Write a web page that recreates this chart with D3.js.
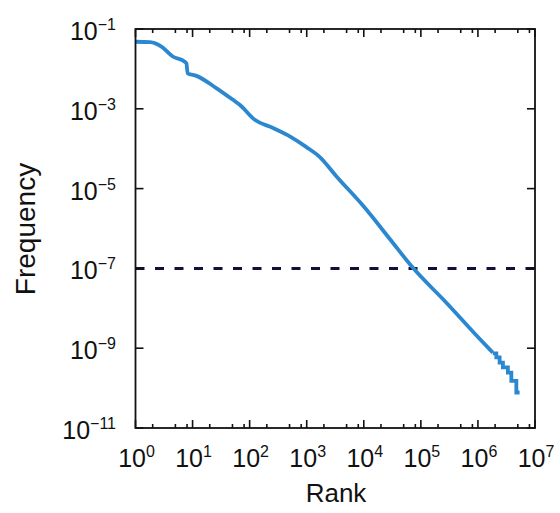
<!DOCTYPE html>
<html>
<head>
<meta charset="utf-8">
<script src="https://cdn.jsdelivr.net/npm/d3@7"></script>
<style>
  html, body { margin: 0; padding: 0; background: #fff; }
  svg { display: block; }
  text { font-family: "Liberation Sans", Arial, Helvetica, sans-serif; fill: #111; }
</style>
</head>
<body>
<svg id="chart" width="560" height="513"></svg>
<script>
// ---- data ----
const rank = [1, 1.8, 2.85, 4.5, 7.3, 7.8, 8.2, 11.7, 26, 51, 67, 123, 257, 505, 990, 1700, 3300, 10000, 30000, 72000, 280000, 1000000, 1820000];
const logFreq = [-1.32, -1.33, -1.44, -1.69, -1.82, -1.86, -2.11, -2.175, -2.48, -2.775, -2.9, -3.275, -3.48, -3.69, -3.96, -4.21, -4.69, -5.45, -6.3, -6.98, -7.86, -8.72, -9.11];
// staircase tail (low counts)
const tailRank = [1820000, 2100000, 2400000, 2740000, 3350000, 3850000, 4710000, 5370000];
const tailLogFreq = [-9.13, -9.23, -9.36, -9.48, -9.61, -9.82, -10.11, -10.11];
const thresholdFreq = 1e-7;
const xMajorTicks = [1, 10, 100, 1e3, 1e4, 1e5, 1e6, 1e7];
const xMajorExp = ["0", "1", "2", "3", "4", "5", "6", "7"];
const xMinorMult = [2, 5, 8];
const yTicks = [1e-1, 1e-3, 1e-5, 1e-7, 1e-9, 1e-11];
const yTickExp = ["\u22121", "\u22123", "\u22125", "\u22127", "\u22129", "\u221211"];
const xTitle = "Rank";
const yTitle = "Frequency";

// ---- layout ----
const L = 135.5, R = 535, T = 29, B = 428;
const svg = d3.select("#chart");
const x = d3.scaleLog().domain([1, 1e7]).range([L, R]);
const y = d3.scaleLog().domain([1e-11, 1e-1]).range([B, T]);

const mainData = rank.map((r, i) => ({r, f: Math.pow(10, logFreq[i])}));
const tailData = tailRank.map((r, i) => ({r, f: Math.pow(10, tailLogFreq[i])}));

// threshold line
svg.append("line")
  .attr("x1", L).attr("x2", R)
  .attr("y1", y(thresholdFreq)).attr("y2", y(thresholdFreq))
  .attr("stroke", "#10103c").attr("stroke-width", 3)
  .attr("stroke-dasharray", "9,10.5");

// curve
svg.append("path").datum(mainData)
  .attr("d", d3.line().x(d => x(d.r)).y(d => y(d.f)).curve(d3.curveMonotoneX))
  .attr("fill", "none").attr("stroke", "#2b88d0").attr("stroke-width", 3.8)
  .attr("stroke-linejoin", "round");
svg.append("path").datum(tailData)
  .attr("d", d3.line().x(d => x(d.r)).y(d => y(d.f)).curve(d3.curveStepAfter))
  .attr("fill", "none").attr("stroke", "#2b88d0").attr("stroke-width", 3.8);

// frame
svg.append("rect").attr("x", L).attr("y", T).attr("width", R - L).attr("height", B - T)
  .attr("fill", "none").attr("stroke", "#111").attr("stroke-width", 1.8);

// x ticks (top and bottom, inward)
const minor = [];
xMajorTicks.slice(0, -1).forEach(d => xMinorMult.forEach(m => minor.push(d * m)));
const tickG = svg.append("g").attr("stroke", "#111").attr("stroke-width", 1.6);
xMajorTicks.forEach(d => {
  tickG.append("line").attr("x1", x(d)).attr("x2", x(d)).attr("y1", B).attr("y2", B - 8);
  tickG.append("line").attr("x1", x(d)).attr("x2", x(d)).attr("y1", T).attr("y2", T + 8);
});
minor.forEach(d => {
  tickG.append("line").attr("x1", x(d)).attr("x2", x(d)).attr("y1", B).attr("y2", B - 4);
  tickG.append("line").attr("x1", x(d)).attr("x2", x(d)).attr("y1", T).attr("y2", T + 4);
});
yTicks.forEach(d => {
  tickG.append("line").attr("x1", L).attr("x2", L + 8).attr("y1", y(d)).attr("y2", y(d));
  tickG.append("line").attr("x1", R).attr("x2", R - 8).attr("y1", y(d)).attr("y2", y(d));
});

// x tick labels
xMajorTicks.forEach((d, i) => {
  const t = svg.append("text").attr("x", x(d) + 1).attr("y", 467)
    .attr("text-anchor", "middle").attr("font-size", 25);
  t.append("tspan").text("10");
  t.append("tspan").attr("dy", -10).attr("font-size", 16).text(xMajorExp[i]);
});

// y tick labels
yTicks.forEach((d, i) => {
  const t = svg.append("text").attr("x", 116).attr("y", y(d) + 11)
    .attr("text-anchor", "end").attr("font-size", 25);
  t.append("tspan").text("10");
  t.append("tspan").attr("dy", -10).attr("font-size", 16).text(yTickExp[i]);
});

// axis titles
svg.append("text").attr("x", 336).attr("y", 502).attr("text-anchor", "middle")
  .attr("font-size", 26).text(xTitle);
svg.append("text").attr("transform", `translate(35, 229) rotate(-90)`)
  .attr("text-anchor", "middle").attr("font-size", 28).text(yTitle);
</script>
</body>
</html>
